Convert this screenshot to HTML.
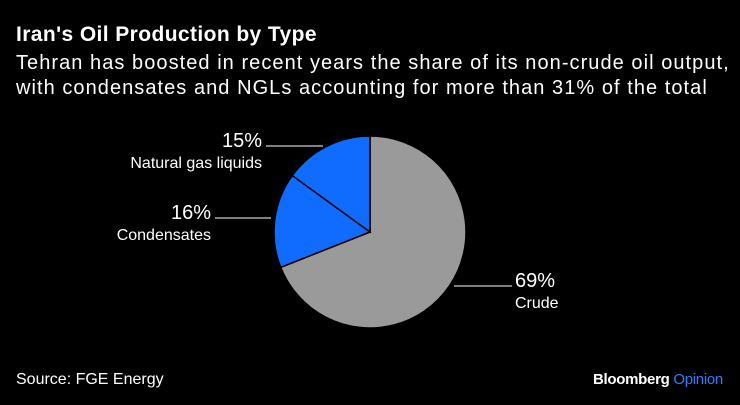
<!DOCTYPE html>
<html><head><meta charset="utf-8"><style>
html,body{margin:0;padding:0;background:#000;}
body{width:740px;height:405px;position:relative;overflow:hidden;font-family:"Liberation Sans",sans-serif;color:#fff;}
.t{position:absolute;white-space:nowrap;}
</style></head><body>
<div class="t" style="left:16px;top:23px;font-size:21px;font-weight:bold;letter-spacing:0.4px;">Iran's Oil Production by Type</div>
<div class="t" style="left:16px;top:51px;font-size:20px;line-height:25px;letter-spacing:1.05px;">Tehran has boosted in recent years the share of its non-crude oil output,<br>with condensates and NGLs accounting for more than 31% of the total</div>
<svg id="chart" width="740" height="405" style="position:absolute;left:0;top:0;"></svg>
<div class="t" style="left:16px;top:371px;font-size:16px;">Source: FGE Energy</div>
<div class="t" style="left:593px;top:371px;font-size:15px;font-weight:bold;letter-spacing:-0.3px;">Bloomberg <span style="color:#2f7dff;font-weight:normal;">Opinion</span></div>
<script>
const categories=["Crude","Condensates","Natural gas liquids"];
const values=[69,16,15];
const pctLabels=["69%","16%","15%"];
const colors=["#9a9a9a","#0f6cff","#0f6cff"];
const cx=370,cy=232,r=96;
const svg=document.getElementById('chart');
const NS="http://www.w3.org/2000/svg";
const total=values.reduce((a,b)=>a+b,0);
function pt(frac,rad){const a=frac*2*Math.PI;return [cx+rad*Math.sin(a),cy-rad*Math.cos(a)];}
let acc=0;
const labelPos=[
 {lx:454,ly:286,lx2:512,tx:515,anchor:"start"},
 {lx:215,ly:218,lx2:271,tx:211,anchor:"end"},
 {lx:266,ly:146,lx2:323,tx:262,anchor:"end"}
];
values.forEach((v,i)=>{
 const s=acc/total,e=(acc+v)/total;acc+=v;
 const [x1,y1]=pt(s,r),[x2,y2]=pt(e,r);
 const large=(e-s)>0.5?1:0;
 const p=document.createElementNS(NS,'path');
 p.setAttribute('d',`M${cx},${cy} L${x1},${y1} A${r},${r} 0 ${large} 1 ${x2},${y2} Z`);
 p.setAttribute('fill',colors[i]);p.setAttribute('stroke','#000');p.setAttribute('stroke-width','1.5');
 
 
 svg.appendChild(p);
 const L=labelPos[i];
 const ln=document.createElementNS(NS,'line');
 ln.setAttribute('x1',L.lx);ln.setAttribute('x2',L.lx2);ln.setAttribute('y1',L.ly);ln.setAttribute('y2',L.ly);
 ln.setAttribute('stroke','#fff');ln.setAttribute('stroke-width','1');
 
 
 svg.appendChild(ln);
 const t1=document.createElementNS(NS,'text');
 t1.setAttribute('x',L.tx);t1.setAttribute('y',L.ly+1);t1.setAttribute('text-anchor',L.anchor);
 t1.setAttribute('fill','#fff');t1.setAttribute('font-size','20');t1.setAttribute('font-family','Liberation Sans, sans-serif');
 t1.textContent=pctLabels[i];
 
 
 svg.appendChild(t1);
 const t2=document.createElementNS(NS,'text');
 t2.setAttribute('x',L.tx);t2.setAttribute('y',L.ly+22);t2.setAttribute('text-anchor',L.anchor);
 t2.setAttribute('fill','#fff');t2.setAttribute('font-size','16');t2.setAttribute('font-family','Liberation Sans, sans-serif');
 t2.textContent=categories[i];
 
 
 svg.appendChild(t2);
});
</script>
</body></html>
